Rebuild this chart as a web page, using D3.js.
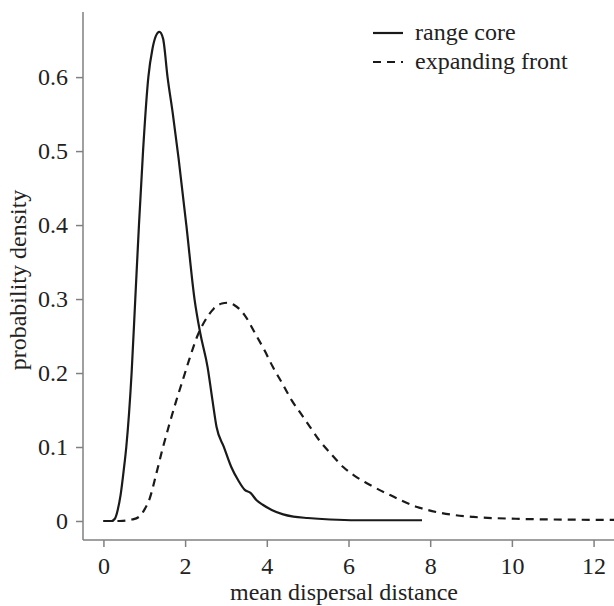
<!DOCTYPE html>
<html>
<head>
<meta charset="utf-8">
<script src="https://cdn.jsdelivr.net/npm/d3@7"></script>
<style>
  body { margin: 0; background: #fff; }
  svg text { font-family: "Liberation Serif", serif; fill: #222; }
</style>
</head>
<body>
<div id="chart"></div>
<script>
// range core (solid)
let coreX = [0, 0.2, 0.28, 0.35, 0.42, 0.5, 0.56, 0.69, 0.78, 0.87, 0.97, 1.1, 1.2, 1.28, 1.37, 1.46, 1.57, 1.7, 1.84, 2.03, 2.23, 2.37, 2.55, 2.67, 2.77, 2.95, 3.13, 3.3, 3.46, 3.6, 3.75, 3.9, 4.12, 4.4, 4.65, 5.0, 5.55, 6.2, 7.0, 7.8]
let coreY = [0, 0, 0.003, 0.015, 0.035, 0.07, 0.1, 0.2, 0.3, 0.4, 0.5, 0.6, 0.638, 0.655, 0.661, 0.652, 0.6, 0.55, 0.49, 0.4, 0.3, 0.254, 0.208, 0.163, 0.127, 0.1, 0.073, 0.055, 0.042, 0.038, 0.028, 0.022, 0.015, 0.009, 0.006, 0.004, 0.002, 0.001, 0.001, 0.001]

// expanding front (dashed)
let frontX = [0, 0.4, 0.7, 0.88, 1.0, 1.13, 1.3, 1.45, 1.6, 1.78, 1.94, 2.1, 2.3, 2.5, 2.7, 2.9, 3.05, 3.2, 3.46, 3.71, 3.95, 4.15, 4.4, 4.61, 4.81, 5.06, 5.3, 5.55, 5.87, 6.15, 6.45, 7.02, 7.68, 8.25, 9.06, 10.1, 11, 12.5]
let frontY = [0, 0, 0.002, 0.006, 0.015, 0.03, 0.065, 0.098, 0.128, 0.162, 0.19, 0.218, 0.25, 0.272, 0.287, 0.294, 0.295, 0.292, 0.278, 0.254, 0.23, 0.208, 0.184, 0.163, 0.147, 0.127, 0.108, 0.092, 0.073, 0.061, 0.051, 0.035, 0.019, 0.011, 0.0055, 0.003, 0.002, 0.0015]

let xTicks = [0, 2, 4, 6, 8, 10, 12]
let yTicks = [0, 0.1, 0.2, 0.3, 0.4, 0.5, 0.6]
let seriesNames = ['range core', 'expanding front']

let width = 614
let height = 606
let serif = '"Liberation Serif", serif'

let svg = d3
  .select('#chart')
  .append('svg')
  .attr('width', width)
  .attr('height', height)

let xScale = d3.scaleLinear().domain([-0.5, 12.5]).range([83, 614])
let yScale = d3.scaleLinear().domain([-0.0257, 0.688]).range([540, 12])

let xAxis = svg
  .append('g')
  .attr('transform', 'translate(0,540)')
  .call(d3.axisBottom(xScale).tickValues(xTicks).tickSize(7).tickPadding(10).tickFormat(d3.format('d')))

let yAxis = svg
  .append('g')
  .attr('transform', 'translate(83,0)')
  .call(d3.axisLeft(yScale).tickValues(yTicks).tickSize(7).tickPadding(8).tickFormat(d => d === 0 ? '0' : d3.format('.1f')(d)))

// gray axes, serif labels
svg.selectAll('g').attr('font-family', serif)
svg.selectAll('.domain, .tick line')
  .attr('stroke', '#808080')
  .attr('stroke-width', 1.5)
svg.selectAll('.tick text')
  .attr('font-size', 24)
  .attr('fill', '#222')
xAxis.selectAll('.domain').attr('d', 'M83,0H614')
yAxis.selectAll('.domain').attr('d', 'M0,540V12')

let line = d3.line()
  .x(d => xScale(d[0]))
  .y(d => yScale(d[1]))
  .curve(d3.curveMonotoneX)

svg.append('path')
  .datum(d3.zip(coreX, coreY))
  .attr('d', line)
  .attr('fill', 'none')
  .attr('stroke', '#1a1a1a')
  .attr('stroke-width', 2.2)

svg.append('path')
  .datum(d3.zip(frontX, frontY))
  .attr('d', line)
  .attr('fill', 'none')
  .attr('stroke', '#1a1a1a')
  .attr('stroke-width', 2.2)
  .attr('stroke-dasharray', '8,6')

// axis titles
svg.append('text')
  .text('mean dispersal distance')
  .attr('x', 344)
  .attr('y', 600)
  .attr('text-anchor', 'middle')
  .attr('font-size', 24)

svg.append('text')
  .text('probability density')
  .attr('transform', 'translate(26,280) rotate(-90)')
  .attr('text-anchor', 'middle')
  .attr('font-size', 24)

// legend
let legend = svg.append('g').attr('transform', 'translate(373,33)')

legend.selectAll('g')
  .data(seriesNames)
  .enter().append('g')
  .attr('transform', (d, i) => `translate(0,${i * 29})`)
  .each(function(d, i) {
    let group = d3.select(this)
    group.append('line')
      .attr('x1', 0).attr('x2', 30)
      .attr('stroke', '#1a1a1a')
      .attr('stroke-width', 2.2)
      .attr('stroke-dasharray', i === 1 ? '8,6' : null)
    group.append('text')
      .text(d)
      .attr('x', 42)
      .attr('y', 7)
      .attr('font-size', 24)
  })
</script>
</body>
</html>
